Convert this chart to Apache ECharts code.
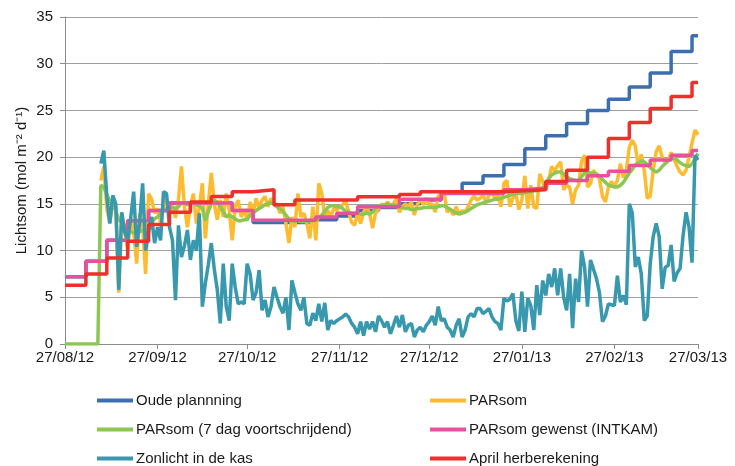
<!DOCTYPE html>
<html>
<head>
<meta charset="utf-8">
<script src="https://cdn.jsdelivr.net/npm/echarts@6/dist/echarts.min.js"></script>
<style>
  html, body { margin: 0; padding: 0; background: #fff; }
  #chart { width: 735px; height: 466px; }
</style>
</head>
<body>
<div id="chart"></div>
<script>
// x axis: days since 27/08/12
const tickDays = [0, 31, 61, 92, 122, 153, 184, 212];
const tickLabels = ['27/08/12', '27/09/12', '27/10/12', '27/11/12', '27/12/12', '27/01/13', '27/02/13', '27/03/13'];

// step series: [day, value] at each change
const oudePlanning = [[0,7.2],[7,8.85],[14,11.1],[21,13.2],[28,14.3],[35,15.1],[56,14.3],[63,13.0],[84,13.3],[91,13.7],[98,14.3],[105,14.6],[112,15.0],[119,15.4],[126,16.2],[133,17.2],[140,18.0],[147,19.2],[154,20.9],[161,22.3],[168,23.6],[175,25.0],[182,26.2],[189,27.5],[196,29.0],[203,31.3],[210,33.0],[212,33.0]];
const parsomGewenst = [[0,7.2],[7,8.85],[14,11.1],[21,13.2],[28,14.3],[35,15.1],[56,14.3],[63,13.25],[84,13.6],[91,14.0],[98,14.7],[112,15.5],[126,16.1],[147,16.5],[154,16.7],[161,17.2],[168,17.5],[175,18.0],[182,18.5],[189,19.1],[196,19.7],[203,20.2],[210,20.7],[212,20.7]];
const aprilHerberekening = [[0,6.3],[7,7.5],[14,9.2],[21,11.0],[28,12.8],[35,14.1],[42,15.2],[49,15.8],[56,16.3],[63,16.5],[70,14.9],[77,15.4],[98,15.75],[112,16.0],[119,16.3],[147,16.5],[161,17.4],[168,18.6],[175,20.0],[182,22.0],[189,23.7],[196,25.2],[203,26.5],[210,28.0],[212,28.0]];

// daily series, one value per day from day 0
const parsom = [
  null,null,null,null,null,null,null,null,null,null,
  null,null,17.5,19.0,14.5,13.0,15.0,14.7,5.5,14.0,
  12.0,10.0,13.5,12.0,8.6,14.0,12.5,7.5,16.1,15.5,
  14.0,14.5,13.0,14.7,15.5,14.0,14.8,13.5,15.5,19.0,
  14.7,12.5,14.7,16.1,12.9,14.7,17.2,11.3,15.0,18.3,
  15.0,13.3,15.4,13.6,16.1,14.3,11.1,14.7,15.4,13.6,
  14.3,13.3,15.2,13.8,15.6,14.5,15.4,15.8,14.7,15.6,
  14.9,15.0,14.0,14.7,12.9,10.8,13.6,12.5,16.1,13.6,
  14.0,12.9,11.3,14.7,11.1,17.2,16.1,13.6,14.3,13.6,
  14.5,14.3,14.7,14.9,15.4,14.1,13.0,12.7,14.0,12.9,
  14.1,14.7,14.0,12.4,14.0,14.5,15.0,14.7,15.2,14.7,
  15.0,15.6,14.1,14.7,15.0,14.7,15.2,13.8,14.9,15.5,
  14.9,15.6,14.9,15.0,14.1,15.8,16.1,16.1,14.1,14.5,
  13.8,14.7,13.8,14.3,14.1,14.7,15.4,15.8,15.4,15.6,
  15.9,15.2,15.9,16.3,15.6,15.9,14.7,17.2,17.5,14.7,
  15.6,16.1,14.4,15.4,18.0,14.5,17.0,14.7,14.5,18.2,
  17.4,16.5,17.5,19.0,18.5,19.1,19.5,16.5,17.0,16.8,
  15.0,16.5,17.0,19.5,20.2,16.8,17.2,18.6,18.1,17.7,
  15.8,15.2,16.8,17.4,16.9,17.5,19.3,17.8,18.6,21.1,
  21.8,21.2,19.0,20.3,18.6,15.6,15.8,18.6,20.6,21.2,
  20.0,19.4,19.7,20.5,19.8,19.0,18.4,18.1,18.6,20.0,
  21.5,22.9,22.4
];
const parsom7dag = [
  0,0,0,0,0,0,0,0,0,0,
  0,0,17.0,16.8,16.0,15.3,14.8,14.3,13.3,13.0,
  12.7,12.3,12.0,11.9,11.8,12.0,12.2,11.9,12.4,13.0,
  13.4,13.6,14.0,14.3,14.5,14.6,14.6,14.5,14.7,15.1,
  15.1,14.9,15.0,15.1,14.9,14.8,14.5,13.2,14.2,15.0,
  15.4,15.2,14.7,14.2,13.6,13.8,13.6,13.4,13.2,13.2,
  13.3,13.3,13.8,14.0,14.3,14.5,14.7,14.9,15.0,15.2,
  14.9,14.7,14.5,14.2,13.8,13.4,13.2,13.1,13.2,13.1,
  13.1,13.1,13.2,13.2,13.3,13.5,13.8,14.2,14.6,14.8,
  14.8,14.7,14.7,14.5,14.2,14.1,14.0,14.0,14.0,13.9,
  13.9,14.0,13.9,14.1,14.5,14.7,14.8,14.9,15.0,14.9,
  14.9,14.8,14.7,14.6,14.5,14.5,14.4,14.4,14.5,14.5,
  14.6,14.6,14.6,14.6,14.6,14.7,14.8,14.8,14.6,14.4,
  14.2,14.0,14.0,14.0,14.1,14.3,14.5,14.7,14.9,15.0,
  15.1,15.2,15.3,15.4,15.5,15.5,15.6,15.7,15.8,15.9,
  16.0,16.1,16.1,16.1,16.2,16.3,16.3,16.4,16.4,16.5,
  16.7,17.2,17.7,18.1,18.3,18.4,18.4,18.2,17.9,17.7,
  17.6,17.5,17.5,17.9,18.3,18.4,18.3,18.3,18.2,18.0,
  17.6,17.3,17.0,16.9,16.8,16.8,17.0,17.3,17.8,18.3,
  18.7,19.2,19.4,19.6,19.5,19.2,18.9,18.6,18.4,18.6,
  19.0,19.3,19.6,19.8,19.9,19.7,19.4,19.2,19.1,19.0,
  19.3,19.8,20.4
];
const zonlicht = [
  null,null,null,null,null,null,null,null,null,null,
  null,null,19.3,20.7,15.8,12.9,15.9,15.0,5.8,14.1,
  12.0,11.1,13.5,16.3,10.4,13.0,17.2,10.0,12.0,13.6,
  10.8,12.5,11.1,16.3,16.1,12.5,11.1,4.7,12.7,9.3,
  10.5,12.2,9.0,11.1,10.0,14.0,4.0,6.5,8.5,10.8,
  8.0,5.8,2.2,8.6,4.0,2.5,8.6,6.1,4.3,4.5,
  4.3,8.6,7.5,4.7,5.5,7.9,3.6,4.7,2.9,4.0,
  6.1,5.0,4.0,3.3,5.0,1.5,6.8,5.5,4.3,3.6,
  5.0,2.2,2.0,3.3,2.5,4.3,2.4,4.4,1.5,2.5,
  2.2,2.5,2.7,2.9,3.2,2.9,2.2,1.8,1.1,2.4,
  0.9,2.4,1.6,2.4,1.3,3.0,2.5,1.8,2.4,1.1,
  2.0,3.0,1.8,3.1,1.3,2.0,2.2,0.75,1.5,1.8,
  1.3,2.0,2.4,3.0,2.0,4.0,2.5,2.7,1.8,1.5,
  0.75,2.0,2.7,0.75,1.5,2.9,3.25,2.9,3.8,3.8,
  3.25,3.5,3.8,2.9,2.4,2.2,1.5,4.9,4.6,4.8,
  5.4,2.5,1.4,5.6,1.3,4.9,4.1,1.5,6.3,3.1,
  6.8,5.2,7.5,6.1,8.1,5.2,8.1,5.0,3.6,7.5,
  1.7,7.0,4.5,10.0,8.25,4.0,9.0,8.0,7.0,5.5,
  2.4,3.0,4.3,4.2,4.1,7.3,4.5,5.2,4.2,15.0,
  14.0,8.25,9.3,7.5,2.5,3.0,8.6,11.5,12.9,11.5,
  5.9,8.2,8.4,10.6,6.7,7.6,8.1,11.6,14.1,12.5,
  8.7,20.2,19.7
];

const FONT = "'Liberation Sans', Arial, sans-serif";
const TXT = '#1a1a1a';

function daily(arr) {
  return arr.map((v, i) => [i, v]);
}

function lineSeries(name, color, data, step) {
  return {
    name: name,
    type: 'line',
    data: data,
    step: step ? 'end' : false,
    showSymbol: false,
    symbol: 'none',
    connectNulls: false,
    lineStyle: { width: 3.5, color: color },
    itemStyle: { color: color },
    animation: false
  };
}

// one legend per entry, laid out in two columns of three rows
function legendItem(name, left, top) {
  return {
    left: left,
    top: top,
    padding: 0,
    itemWidth: 36,
    itemHeight: 4,
    itemGap: 0,
    icon: 'rect',
    textStyle: { color: TXT, fontSize: 15, fontFamily: FONT, padding: [0, 0, 0, -2] },
    data: [name]
  };
}

const myChart = echarts.init(document.getElementById('chart'));
const option = {
  animation: false,
  textStyle: { fontFamily: FONT },
  grid: { left: 65, right: 37, top: 17, bottom: 122, containLabel: false, outerBoundsMode: 'none' },
  legend: [
    legendItem('Oude plannning', 97, 393),
    legendItem('PARsom (7 dag voortschrijdend)', 97, 422),
    legendItem('Zonlicht in de kas', 97, 451),
    legendItem('PARsom', 430, 393),
    legendItem('PARsom gewenst (INTKAM)', 430, 422),
    legendItem('April herberekening', 430, 451)
  ],
  xAxis: {
    type: 'value',
    min: 0,
    max: 212,
    axisLine: { show: true, lineStyle: { color: '#8c8c8c', width: 1 } },
    axisTick: { show: true, customValues: tickDays, length: 5, lineStyle: { color: '#8c8c8c' } },
    axisLabel: {
      customValues: tickDays,
      color: TXT,
      fontSize: 15,
      margin: 6,
      fontFamily: FONT,
      formatter: function (v) {
        const i = tickDays.indexOf(Math.round(v));
        return i >= 0 ? tickLabels[i] : '';
      }
    },
    splitLine: { show: false }
  },
  yAxis: {
    type: 'value',
    min: 0,
    max: 35,
    interval: 5,
    name: 'Lichtsom (mol m\u207B\u00B2 d\u207B\u00B9)',
    nameLocation: 'middle',
    nameGap: 36,
    nameMoveOverlap: false,
    nameTextStyle: { color: TXT, fontSize: 15, fontFamily: FONT },
    axisLine: { show: true, lineStyle: { color: '#8c8c8c', width: 1 } },
    axisTick: { show: true, length: 5, lineStyle: { color: '#8c8c8c' } },
    axisLabel: { color: TXT, fontSize: 15, margin: 12, fontFamily: FONT },
    splitLine: { show: true, lineStyle: { color: '#a0a0a0', width: 1 } }
  },
  series: [
    lineSeries('Oude plannning', '#3c6fae', oudePlanning, true),
    lineSeries('PARsom', '#fdbb2f', daily(parsom), false),
    lineSeries('PARsom (7 dag voortschrijdend)', '#8cc653', daily(parsom7dag), false),
    lineSeries('PARsom gewenst (INTKAM)', '#e8509d', parsomGewenst, true),
    lineSeries('Zonlicht in de kas', '#3898ad', daily(zonlicht), false),
    lineSeries('April herberekening', '#ee2f2c', aprilHerberekening, true)
  ]
};
myChart.setOption(option);
window.addEventListener('resize', () => {
  myChart.resize();
});
</script>
</body>
</html>
